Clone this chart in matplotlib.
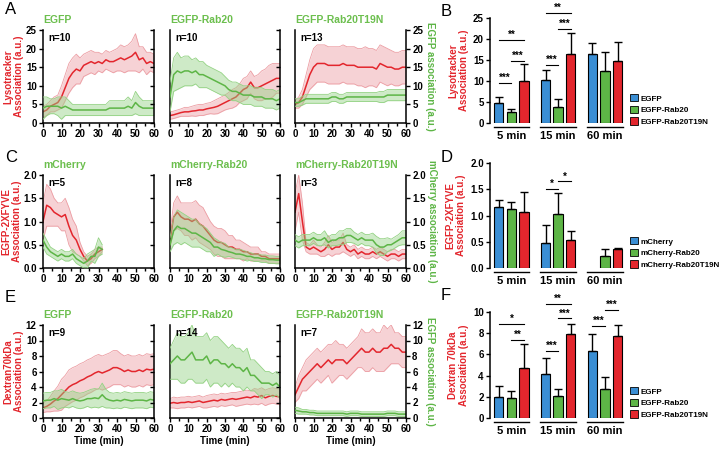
import numpy as np
import matplotlib
matplotlib.use('Agg')
import matplotlib.pyplot as plt
from matplotlib.patches import Patch
from matplotlib.ticker import MultipleLocator, FormatStrFormatter

plt.rcParams['font.family'] = ['Liberation Sans', 'DejaVu Sans']
plt.rcParams['font.weight'] = 'bold'
plt.rcParams['axes.labelweight'] = 'bold'

RED = '#e3262d'
RED_FILL = '#ec9da3'
GREEN = '#5db546'
GREEN_FILL = '#93d283'
TITLE_GREEN = '#6cbf4e'
BLUE = '#3a8ed4'

# ---- time course data (mean and +/- spread), one value every 2 min ----
time_min = list(range(0, 61, 2))
time_short = list(range(0, 33, 2))

lyso_egfp_red = [3.0, 3.5, 4.5, 5.0, 5.5, 7.0, 9.5, 12.0, 13.5, 14.5, 14.0, 15.5, 16.0, 16.5, 16.0, 16.5,
                 16.0, 17.0, 16.5, 16.5, 17.0, 17.5, 17.0, 17.5, 18.0, 19.0, 17.0, 17.5, 16.0, 16.5, 16.0]
lyso_egfp_red_err = [1.5, 1.5, 1.5, 2.0, 2.0, 3.0, 3.5, 4.0, 4.0, 4.0, 3.5, 3.0, 3.0, 3.0, 3.0, 2.5,
                     2.5, 2.5, 2.5, 3.0, 3.0, 3.5, 3.5, 3.5, 4.0, 5.0, 3.5, 3.0, 3.0, 2.5, 2.5]
lyso_egfp_green = [4.0, 4.5, 4.5, 4.5, 4.5, 4.0, 4.5, 4.0, 3.5, 3.5, 3.5, 3.5, 3.5, 3.5, 3.5, 3.5,
                   3.5, 3.5, 4.0, 4.0, 4.0, 4.0, 4.0, 4.5, 4.0, 5.5, 4.5, 4.0, 4.0, 4.0, 4.0]
lyso_egfp_green_err = [3.0, 2.5, 2.0, 2.0, 2.5, 3.0, 2.5, 2.0, 1.5, 1.5, 1.5, 1.5, 1.5, 1.5, 1.5, 1.5,
                       1.5, 1.5, 2.0, 2.0, 2.0, 2.0, 2.0, 2.5, 2.0, 3.0, 2.5, 2.0, 2.0, 2.0, 2.0]

lyso_rab20_red = [2.0, 2.2, 2.5, 2.8, 3.0, 3.0, 3.2, 3.3, 3.5, 3.5, 3.8, 4.0, 4.2, 4.5, 5.0, 5.5,
                  6.0, 6.5, 7.0, 8.0, 9.0, 9.5, 11.0, 9.5, 9.5, 10.0, 10.5, 11.0, 11.5, 12.0, 12.0]
lyso_rab20_red_err = [1.0, 1.0, 1.0, 1.0, 1.2, 1.2, 1.3, 1.5, 1.5, 1.5, 1.5, 1.5, 1.8, 2.0, 2.0, 2.0,
                      2.2, 2.5, 2.5, 2.5, 3.0, 3.0, 3.0, 3.0, 3.5, 4.0, 4.0, 4.5, 4.5, 4.0, 4.0]
lyso_rab20_green = [7.0, 13.0, 14.0, 13.5, 14.0, 14.0, 13.5, 14.0, 13.0, 13.0, 12.5, 12.0, 11.5, 11.0, 10.5, 10.0,
                    9.0, 8.5, 8.5, 8.0, 7.5, 7.5, 7.5, 7.0, 7.0, 7.0, 6.5, 6.5, 6.5, 6.0, 6.5]
lyso_rab20_green_err = [4.0, 4.5, 5.0, 4.0, 4.0, 4.0, 3.5, 3.5, 3.5, 3.5, 3.0, 3.0, 3.0, 3.0, 3.0, 2.5,
                        2.5, 2.5, 2.5, 2.5, 2.5, 2.5, 2.5, 2.5, 2.5, 2.5, 2.5, 2.5, 2.5, 2.5, 2.5]

lyso_t19n_red = [5.0, 5.5, 7.0, 10.0, 13.0, 15.0, 16.0, 16.0, 16.0, 15.5, 15.5, 15.5, 15.5, 16.0, 15.5, 15.5,
                 15.5, 15.0, 15.0, 15.0, 15.0, 15.0, 14.5, 16.0, 15.5, 15.0, 15.0, 14.5, 14.5, 15.0, 15.0]
lyso_t19n_red_err = [1.0, 1.5, 2.0, 3.0, 4.0, 5.0, 5.0, 5.0, 5.0, 5.0, 5.0, 5.0, 5.0, 5.0, 5.0, 5.0,
                     5.0, 5.0, 5.0, 5.5, 5.0, 5.0, 5.0, 5.0, 5.0, 5.0, 4.5, 4.5, 4.5, 4.5, 4.5]
lyso_t19n_green = [5.5, 5.5, 6.0, 6.5, 6.5, 6.5, 6.5, 6.5, 6.5, 6.5, 7.0, 7.0, 6.5, 6.5, 7.0, 7.0,
                   7.0, 7.0, 7.0, 7.0, 7.0, 7.0, 7.0, 7.0, 7.0, 7.5, 7.5, 7.5, 7.5, 7.5, 7.5]
lyso_t19n_green_err = [1.0, 1.0, 1.2, 1.2, 1.2, 1.2, 1.2, 1.2, 1.2, 1.2, 1.2, 1.2, 1.2, 1.2, 1.2, 1.2,
                       1.2, 1.2, 1.2, 1.2, 1.2, 1.2, 1.2, 1.5, 1.5, 1.5, 1.5, 1.5, 1.5, 1.5, 1.5]

fyve_mch_red = [1.0, 1.35, 1.3, 1.2, 1.15, 1.1, 1.15, 0.9, 0.7, 0.6, 0.4, 0.25, 0.15, 0.2, 0.3, 0.35, 0.4]
fyve_mch_red_err = [0.4, 0.45, 0.4, 0.3, 0.25, 0.3, 0.35, 0.4, 0.35, 0.3, 0.15, 0.1, 0.1, 0.1, 0.1, 0.1, 0.05]
fyve_mch_green = [0.6, 0.45, 0.35, 0.3, 0.25, 0.3, 0.25, 0.25, 0.3, 0.2, 0.15, 0.1, 0.15, 0.25, 0.25, 0.45, 0.4]
fyve_mch_green_err = [0.15, 0.15, 0.1, 0.1, 0.1, 0.1, 0.1, 0.1, 0.1, 0.1, 0.1, 0.1, 0.15, 0.1, 0.15, 0.2, 0.1]

fyve_rab20_red = [0.6, 1.1, 1.2, 1.1, 1.05, 1.05, 1.0, 1.05, 0.95, 0.9, 0.8, 0.7, 0.6, 0.55, 0.55, 0.5,
                  0.45, 0.45, 0.4, 0.4, 0.35, 0.35, 0.3, 0.3, 0.3, 0.25, 0.25, 0.2, 0.2, 0.2, 0.2]
fyve_rab20_red_err = [0.15, 0.3, 0.35, 0.3, 0.35, 0.35, 0.4, 0.4, 0.4, 0.4, 0.35, 0.3, 0.3, 0.3, 0.3, 0.3,
                      0.25, 0.25, 0.2, 0.2, 0.2, 0.15, 0.15, 0.15, 0.15, 0.1, 0.1, 0.1, 0.1, 0.1, 0.1]
fyve_rab20_green = [0.5, 0.8, 0.9, 0.85, 0.85, 0.8, 0.75, 0.75, 0.7, 0.65, 0.6, 0.55, 0.45, 0.45, 0.4, 0.38,
                    0.35, 0.33, 0.3, 0.3, 0.28, 0.25, 0.25, 0.22, 0.22, 0.2, 0.2, 0.18, 0.18, 0.17, 0.17]
fyve_rab20_green_err = [0.15, 0.3, 0.35, 0.35, 0.3, 0.3, 0.3, 0.3, 0.25, 0.25, 0.25, 0.2, 0.2, 0.15, 0.15, 0.15,
                        0.1, 0.1, 0.1, 0.1, 0.1, 0.1, 0.08, 0.08, 0.08, 0.08, 0.08, 0.08, 0.08, 0.08, 0.08]

fyve_t19n_red = [1.2, 1.6, 1.0, 0.45, 0.4, 0.45, 0.4, 0.35, 0.4, 0.5, 0.4, 0.45, 0.45, 0.55, 0.4, 0.35,
                 0.4, 0.3, 0.35, 0.3, 0.3, 0.35, 0.3, 0.35, 0.3, 0.25, 0.3, 0.3, 0.25, 0.3, 0.3]
fyve_t19n_red_err = [0.4, 0.4, 0.4, 0.1, 0.1, 0.15, 0.1, 0.1, 0.15, 0.2, 0.15, 0.15, 0.15, 0.2, 0.1, 0.1,
                     0.1, 0.1, 0.1, 0.1, 0.1, 0.1, 0.1, 0.1, 0.1, 0.1, 0.1, 0.1, 0.1, 0.1, 0.1]
fyve_t19n_green = [0.6, 0.55, 0.6, 0.6, 0.6, 0.65, 0.6, 0.6, 0.65, 0.55, 0.6, 0.6, 0.65, 0.65, 0.7, 0.7,
                   0.65, 0.6, 0.65, 0.6, 0.6, 0.6, 0.5, 0.45, 0.45, 0.5, 0.5, 0.55, 0.6, 0.65, 0.65]
fyve_t19n_green_err = [0.12, 0.12, 0.12, 0.12, 0.12, 0.12, 0.12, 0.12, 0.15, 0.12, 0.12, 0.12, 0.15, 0.15, 0.15, 0.15,
                       0.12, 0.12, 0.12, 0.12, 0.12, 0.15, 0.18, 0.18, 0.18, 0.15, 0.12, 0.12, 0.12, 0.15, 0.15]

dex_egfp_red = [1.3, 1.5, 1.8, 2.2, 2.5, 3.0, 3.5, 4.0, 4.3, 4.5, 4.8, 5.0, 5.3, 5.5, 5.8, 6.0,
                5.8, 6.0, 6.2, 6.5, 6.5, 6.3, 6.0, 6.2, 6.0, 6.0, 6.2, 6.0, 6.3, 6.2, 6.3]
dex_egfp_red_err = [0.6, 0.7, 1.0, 1.3, 1.6, 2.0, 2.0, 2.2, 2.2, 2.2, 2.2, 2.2, 2.2, 2.2, 2.2, 2.2,
                    2.2, 2.2, 2.2, 2.2, 2.2, 2.0, 2.0, 2.0, 2.0, 2.0, 2.0, 2.0, 2.0, 2.0, 2.0]
dex_egfp_green = [2.2, 2.3, 2.3, 2.5, 2.3, 2.5, 2.4, 2.3, 2.5, 2.3, 2.2, 2.3, 2.5, 2.5, 2.6, 2.5,
                  3.0, 2.5, 2.3, 2.2, 2.3, 2.2, 2.4, 2.3, 2.2, 2.3, 2.3, 2.3, 2.2, 2.4, 2.3]
dex_egfp_green_err = [1.0, 1.0, 1.0, 1.0, 1.2, 1.2, 1.0, 1.0, 1.0, 1.0, 1.0, 1.0, 1.0, 1.2, 1.2, 1.2,
                      1.5, 1.2, 1.0, 1.0, 1.0, 1.0, 1.0, 1.0, 1.0, 1.0, 1.0, 1.0, 1.0, 1.0, 1.0]

dex_rab20_red = [1.9, 2.0, 1.9, 2.0, 2.0, 2.1, 2.0, 2.1, 2.2, 2.0, 2.1, 2.2, 2.3, 2.2, 2.4, 2.3,
                 2.4, 2.5, 2.4, 2.5, 2.6, 2.7, 2.6, 2.8, 2.7, 2.9, 2.6, 2.8, 2.9, 2.8, 2.7]
dex_rab20_red_err = [0.6, 0.7, 0.7, 0.7, 0.7, 0.7, 0.7, 0.7, 0.7, 0.7, 0.8, 0.8, 0.8, 0.8, 0.8, 0.8,
                     0.8, 0.8, 0.9, 0.9, 0.9, 0.9, 0.9, 1.0, 1.0, 1.0, 1.0, 1.0, 1.0, 1.0, 1.0]
dex_rab20_green = [7.0, 7.5, 8.0, 7.5, 7.5, 8.0, 8.5, 7.5, 7.5, 7.5, 8.0, 7.0, 7.5, 7.5, 7.0, 7.0,
                   6.5, 7.0, 6.5, 6.5, 6.0, 6.5, 5.5, 5.5, 5.0, 4.5, 4.5, 4.5, 4.2, 4.5, 4.0]
dex_rab20_green_err = [2.0, 2.5, 3.0, 3.0, 3.0, 3.0, 3.5, 3.0, 3.0, 3.0, 3.0, 3.0, 3.0, 3.0, 3.0, 2.5,
                       2.5, 2.5, 2.5, 2.5, 2.5, 2.5, 2.0, 2.0, 2.0, 2.0, 1.5, 1.5, 1.5, 1.5, 1.5]

dex_t19n_red = [3.0, 4.0, 5.0, 5.5, 6.0, 6.5, 7.0, 6.5, 7.0, 7.5, 7.0, 7.5, 7.5, 7.5, 7.0, 7.5,
                8.0, 8.5, 9.0, 8.5, 8.5, 9.0, 8.5, 8.5, 9.0, 9.0, 9.5, 9.0, 9.0, 8.5, 8.5]
dex_t19n_red_err = [1.0, 1.5, 1.5, 2.0, 2.0, 2.0, 2.0, 2.0, 2.0, 2.0, 2.5, 2.5, 2.0, 2.0, 2.0, 2.0,
                    2.0, 2.0, 2.5, 2.5, 2.5, 2.5, 2.5, 2.5, 3.0, 2.5, 2.5, 2.0, 2.0, 2.0, 2.0]
dex_t19n_green = [1.0, 0.9, 0.8, 0.8, 0.7, 0.7, 0.6, 0.6, 0.6, 0.6, 0.6, 0.6, 0.6, 0.6, 0.5, 0.6,
                  0.6, 0.6, 0.5, 0.5, 0.5, 0.5, 0.5, 0.5, 0.5, 0.6, 0.6, 0.6, 0.5, 0.5, 0.5]
dex_t19n_green_err = [0.4, 0.4, 0.3, 0.3, 0.3, 0.3, 0.3, 0.3, 0.3, 0.3, 0.3, 0.3, 0.3, 0.3, 0.3, 0.3,
                      0.3, 0.3, 0.3, 0.3, 0.3, 0.3, 0.3, 0.3, 0.3, 0.3, 0.3, 0.3, 0.3, 0.3, 0.3]

# ---- bar chart data: rows = time point, cols = construct ----
bar_groups = ['5 min', '15 min', '60 min']
egfp_labels = ['EGFP', 'EGFP-Rab20', 'EGFP-Rab20T19N']
mcherry_labels = ['mCherry', 'mCherry-Rab20', 'mCherry-Rab20T19N']

lyso_bar_mean = [[4.8, 2.6, 9.9], [10.2, 3.8, 16.5], [16.4, 12.3, 14.8]]
lyso_bar_err = [[1.4, 0.7, 4.1], [2.5, 2.0, 4.9], [2.7, 4.6, 4.4]]
lyso_sig = [(0, 0, 1, 9.5, '***'), (0, 1, 2, 14.8, '***'), (0, 0, 2, 19.8, '**'),
            (1, 0, 1, 13.9, '***'), (1, 1, 2, 22.4, '***'), (1, 0, 2, 26.3, '**')]

fyve_bar_mean = [[1.16, 1.12, 1.07], [0.48, 1.03, 0.53], [0.0, 0.23, 0.36]]
fyve_bar_err = [[0.13, 0.14, 0.38], [0.33, 0.40, 0.17], [0.0, 0.14, 0.03]]
fyve_sig = [(1, 0, 1, 1.5, '*'), (1, 1, 2, 1.65, '*')]

dex_bar_mean = [[1.97, 1.9, 4.75], [4.16, 2.1, 7.9], [6.34, 2.75, 7.72]]
dex_bar_err = [[1.09, 0.66, 2.25], [1.54, 0.65, 1.0], [1.63, 1.09, 1.08]]
dex_sig = [(0, 0, 2, 8.9, '*'), (0, 1, 2, 7.4, '**'), (1, 0, 1, 6.3, '***'), (1, 1, 2, 9.4, '***'),
           (1, 0, 2, 10.8, '**'), (2, 0, 1, 8.7, '***'), (2, 1, 2, 10.2, '***')]

W, H = 719, 450
fig = plt.figure(figsize=(W / 100, H / 100), dpi=100)


def add_px_axes(x0, y0, x1, y1):
    return fig.add_axes([x0 / W, 1 - y1 / H, (x1 - x0) / W, (y1 - y0) / H])


def band(ax, t, mean, err, line_color, fill_color):
    mean = np.asarray(mean)
    err = np.asarray(err)
    ax.fill_between(t, mean - err, mean + err, color=fill_color, alpha=0.45, lw=0)
    ax.plot(t, mean - err, color=fill_color, lw=0.6)
    ax.plot(t, mean + err, color=fill_color, lw=0.6)
    ax.plot(t, mean, color=line_color, lw=1.1)


def trace_panel(col, rows_px, ymax, ystep, fmt, t, red, red_err, green, green_err,
                title, n_text, red_label, green_label, time_label):
    cols_px = [(43, 154), (170, 280), (295, 406)]
    x0, x1 = cols_px[col]
    ax = add_px_axes(x0, rows_px[0], x1, rows_px[1])
    ax2 = ax.twinx()
    band(ax, t, red, red_err, RED, RED_FILL)
    band(ax2, t, green, green_err, GREEN, GREEN_FILL)
    for a in (ax, ax2):
        a.set_xlim(0, 60)
        a.set_ylim(0, ymax)
        a.yaxis.set_major_locator(MultipleLocator(ystep))
        a.yaxis.set_major_formatter(FormatStrFormatter(fmt))
        a.spines['top'].set_visible(False)
        for s in a.spines.values():
            s.set_linewidth(1.1)
    ax.spines['right'].set_visible(False)
    ax2.spines['left'].set_visible(False)
    ax2.spines['bottom'].set_visible(False)
    ax.xaxis.set_major_locator(MultipleLocator(10))
    ax.xaxis.set_minor_locator(MultipleLocator(5))
    ax.tick_params(axis='x', which='major', length=3, width=1, labelsize=7, pad=1.5)
    ax.tick_params(axis='x', which='minor', length=2, width=1)
    if col == 0:
        ax.tick_params(axis='y', length=3, width=1, labelsize=7, pad=1.5)
        ax.set_ylabel(red_label, color=RED, fontsize=7, labelpad=1, linespacing=1.1)
    else:
        ax.tick_params(axis='y', left=False, labelleft=False)
    if col == 2:
        ax2.tick_params(axis='y', length=3, width=1, labelsize=7, pad=1.5)
        ax2.set_ylabel(green_label, color=GREEN, fontsize=7, rotation=-90, va='bottom', labelpad=1)
    else:
        ax2.tick_params(axis='y', direction='in', length=3, width=1, labelright=False)
    if time_label:
        ax.set_xlabel('Time (min)', fontsize=7, labelpad=1)
    ax.text(0, 1.05, title, transform=ax.transAxes, color=TITLE_GREEN, fontsize=7.5,
            ha='left', va='bottom')
    ax2.text(0.05, 0.97, n_text, transform=ax.transAxes, fontsize=7, ha='left', va='top')
    return ax


def bar_panel(rows_px, means, errs, labels, ymax, ystep, fmt, sig, ylabel, legend_y):
    ax = add_px_axes(490, rows_px[0], 626, rows_px[1])
    colors = [BLUE, GREEN, RED]
    offsets = [-0.27, 0.0, 0.27]
    for g in range(len(bar_groups)):
        for k in range(3):
            x = g + offsets[k]
            if means[g][k] > 0:
                ax.bar(x, means[g][k], width=0.2, color=colors[k], edgecolor='black', lw=0.8)
            if errs[g][k] > 0:
                ax.errorbar(x, means[g][k], yerr=[[0], [errs[g][k]]], fmt='none', ecolor='black',
                            elinewidth=1, capsize=3, capthick=1)
        ax.plot([g - 0.38, g + 0.38], [-0.035, -0.035], color='black', lw=1,
                transform=ax.get_xaxis_transform(), clip_on=False)
    for g, a, b, y, stars in sig:
        xa, xb = g + offsets[a], g + offsets[b]
        ax.plot([xa, xb], [y, y], color='black', lw=0.8, clip_on=False)
        ax.text((xa + xb) / 2, y, stars, ha='center', va='bottom', fontsize=7, clip_on=False)
    ax.set_xlim(-0.457, 2.45)
    ax.set_ylim(0, ymax)
    ax.set_xticks(range(len(bar_groups)))
    ax.set_xticklabels(bar_groups, fontsize=8)
    ax.tick_params(axis='x', length=0, pad=6)
    ax.yaxis.set_major_locator(MultipleLocator(ystep))
    ax.yaxis.set_major_formatter(FormatStrFormatter(fmt))
    ax.tick_params(axis='y', length=3, width=1, labelsize=7, pad=1.5)
    for s in ('top', 'right', 'bottom'):
        ax.spines[s].set_visible(False)
    ax.spines['left'].set_linewidth(1.1)
    ax.set_ylabel(ylabel, color=RED, fontsize=7, labelpad=3, linespacing=1.1)
    handles = [Patch(facecolor=c, edgecolor='black', lw=0.6, label=l) for c, l in zip(colors, labels)]
    ax.legend(handles=handles, loc='center left', bbox_to_anchor=(630 / W, 1 - legend_y / H),
              bbox_transform=fig.transFigure, frameon=False, fontsize=5.8, handlelength=1.0,
              handleheight=1.0, labelspacing=0.4, handletextpad=0.35, borderaxespad=0, borderpad=0)
    return ax


row_a = (30, 123)
row_c = (175, 268)
row_e = (325, 418)

lyso_label = 'Lysotracker\nAssociation (a.u.)'
fyve_label = 'EGFP-2XFYVE\nAssociation (a.u.)'

trace_panel(0, row_a, 25, 5, '%d', time_min, lyso_egfp_red, lyso_egfp_red_err, lyso_egfp_green,
            lyso_egfp_green_err, 'EGFP', 'n=10', lyso_label, '', False)
trace_panel(1, row_a, 25, 5, '%d', time_min, lyso_rab20_red, lyso_rab20_red_err, lyso_rab20_green,
            lyso_rab20_green_err, 'EGFP-Rab20', 'n=10', lyso_label, '', False)
trace_panel(2, row_a, 25, 5, '%d', time_min, lyso_t19n_red, lyso_t19n_red_err, lyso_t19n_green,
            lyso_t19n_green_err, 'EGFP-Rab20T19N', 'n=13', lyso_label, 'EGFP association (a.u.)', False)

trace_panel(0, row_c, 2.0, 0.5, '%.1f', time_short, fyve_mch_red, fyve_mch_red_err, fyve_mch_green,
            fyve_mch_green_err, 'mCherry', 'n=5', fyve_label, '', False)
trace_panel(1, row_c, 2.0, 0.5, '%.1f', time_min, fyve_rab20_red, fyve_rab20_red_err, fyve_rab20_green,
            fyve_rab20_green_err, 'mCherry-Rab20', 'n=8', fyve_label, '', False)
trace_panel(2, row_c, 2.0, 0.5, '%.1f', time_min, fyve_t19n_red, fyve_t19n_red_err, fyve_t19n_green,
            fyve_t19n_green_err, 'mCherry-Rab20T19N', 'n=3', fyve_label, 'mCherry association (a.u.)', False)

trace_panel(0, row_e, 12, 2, '%d', time_min, dex_egfp_red, dex_egfp_red_err, dex_egfp_green,
            dex_egfp_green_err, 'EGFP', 'n=9', 'Dextran70kDa\nAssociation (a.u.)', '', True)
trace_panel(1, row_e, 12, 2, '%d', time_min, dex_rab20_red, dex_rab20_red_err, dex_rab20_green,
            dex_rab20_green_err, 'EGFP-Rab20', 'n=14', '', '', True)
trace_panel(2, row_e, 12, 2, '%d', time_min, dex_t19n_red, dex_t19n_red_err, dex_t19n_green,
            dex_t19n_green_err, 'EGFP-Rab20T19N', 'n=7', '', 'EGFP association (a.u.)', True)

bar_panel((18, 123), lyso_bar_mean, lyso_bar_err, egfp_labels, 25, 5, '%d', lyso_sig, lyso_label, 110)
bar_panel((163, 268), fyve_bar_mean, fyve_bar_err, mcherry_labels, 2.0, 0.5, '%.1f', fyve_sig,
          fyve_label, 253)
bar_panel((312, 418), dex_bar_mean, dex_bar_err, egfp_labels, 10, 2, '%d', dex_sig,
          'Dextran 70kDa\nAssociation (a.u.)', 403)

for letter, x, y in [('A', 5, 10), ('B', 441, 11), ('C', 5, 157), ('D', 441, 157),
                     ('E', 5, 298), ('F', 441, 296)]:
    fig.text(x / W, 1 - y / H, letter, fontsize=12, fontweight='normal', ha='left', va='center')

fig.savefig('out.png', dpi=100)
